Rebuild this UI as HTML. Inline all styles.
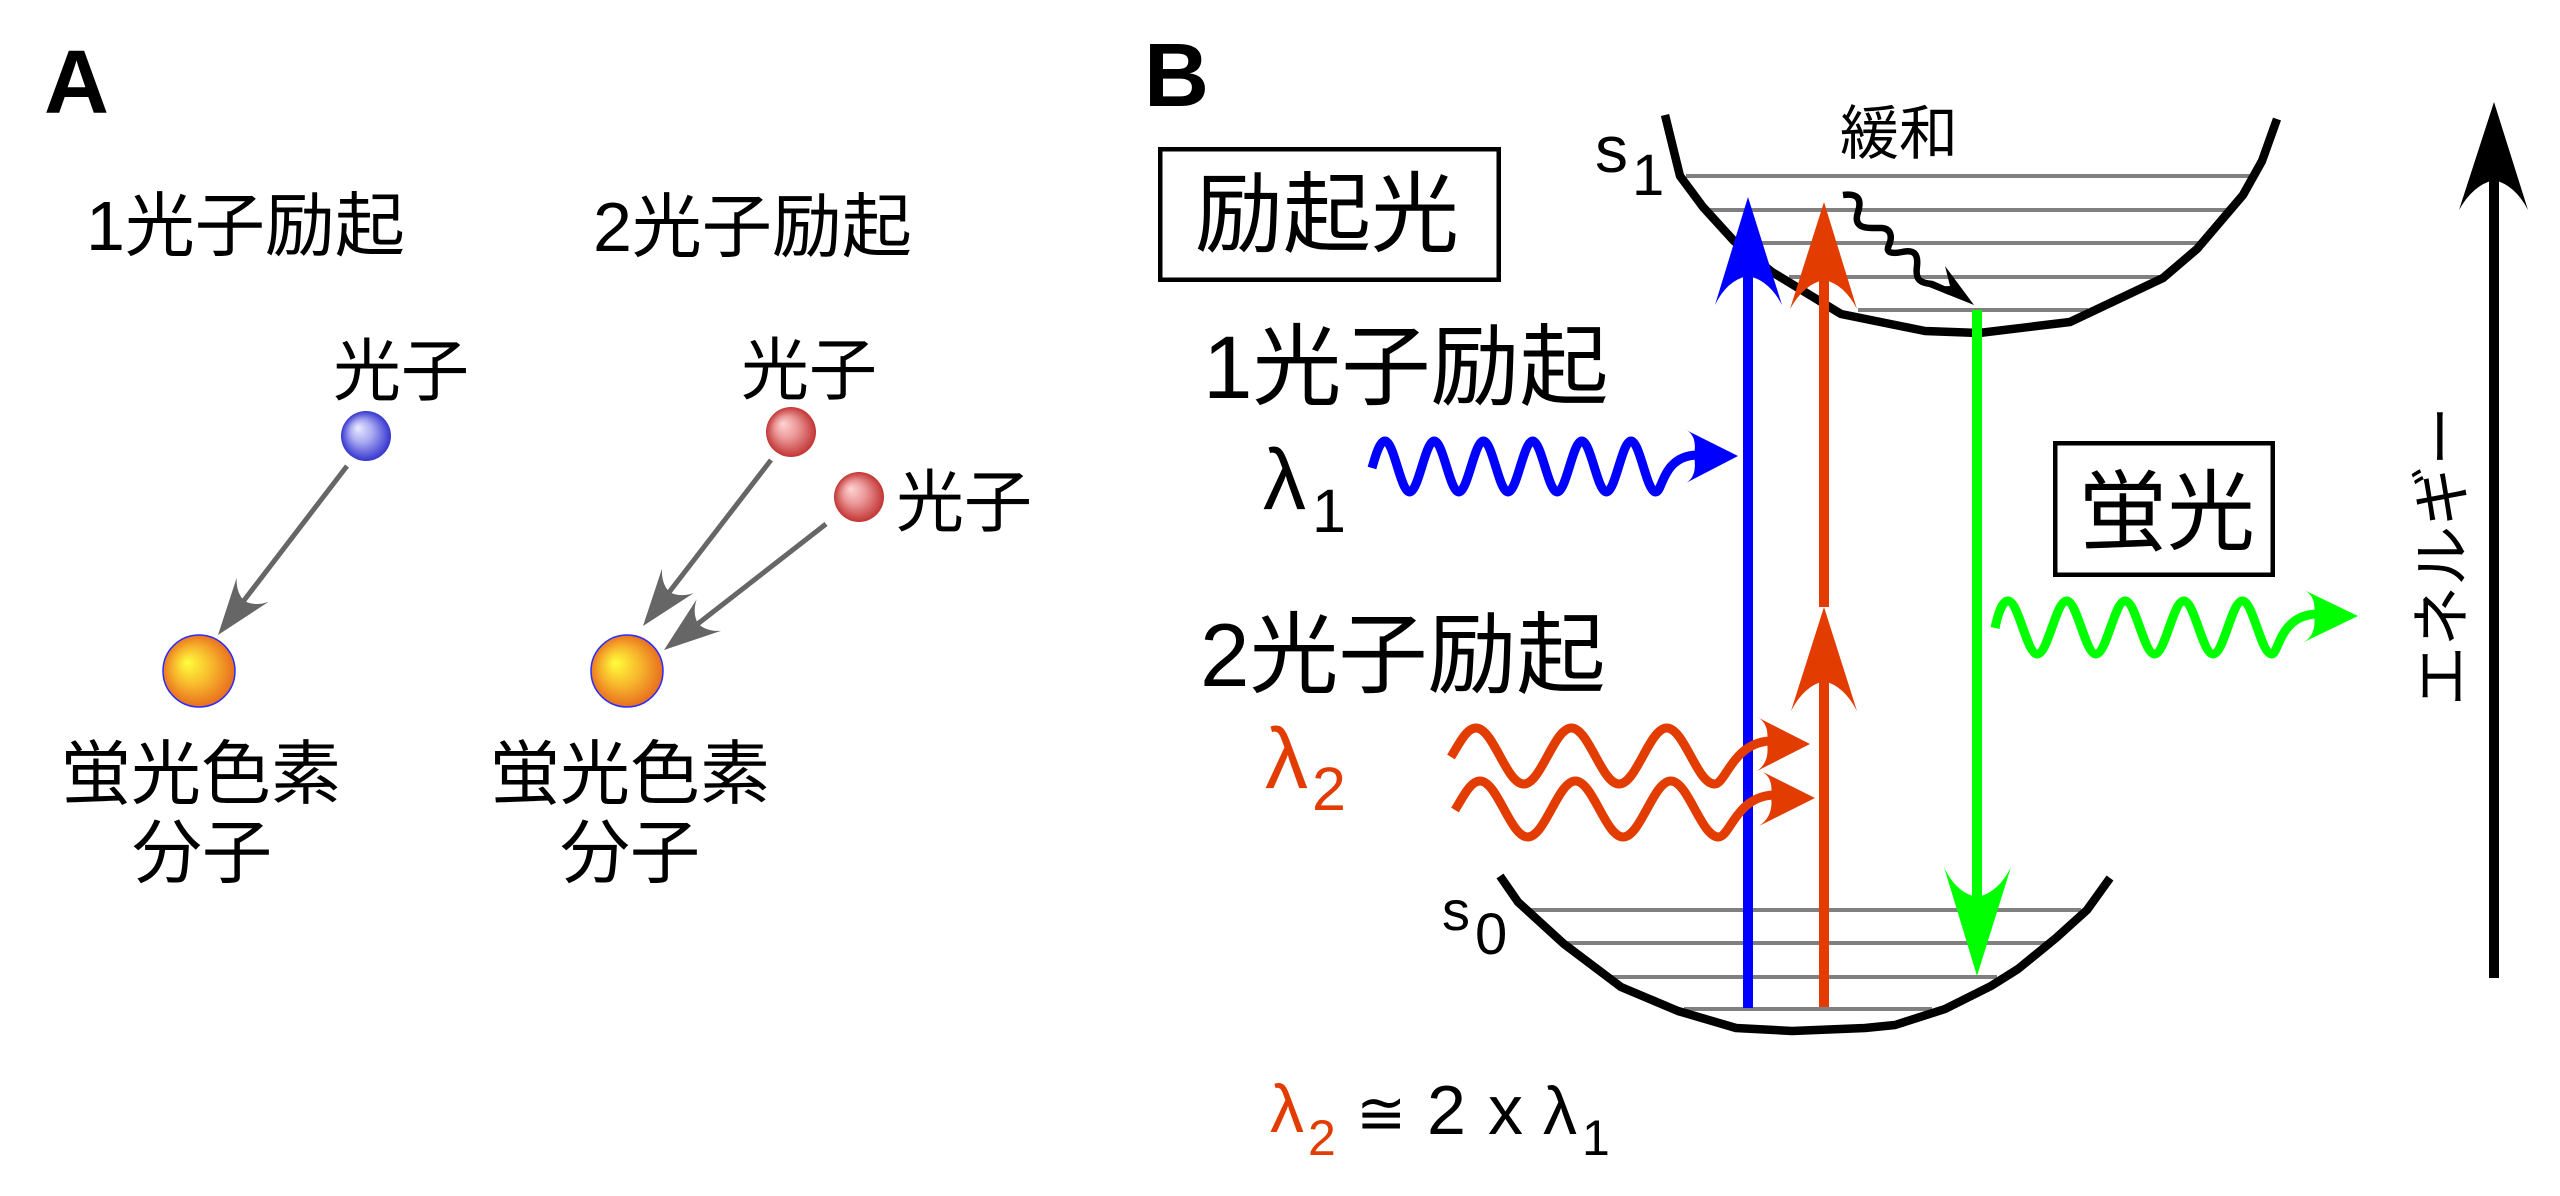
<!DOCTYPE html>
<html>
<head>
<meta charset="utf-8">
<style>
html,body{margin:0;padding:0;background:#fff;}
svg{display:block;}
text{font-family:"Liberation Sans","Noto Sans CJK JP",sans-serif;fill:#000;}
.cjk{font-family:"Liberation Sans","Noto Sans CJK JP",sans-serif;}
.red{fill:#e33c00;}
</style>
</head>
<body>
<svg width="2560" height="1196" viewBox="0 0 2560 1196" xmlns="http://www.w3.org/2000/svg">
<defs>
  <radialGradient id="gb" cx="0.5" cy="0.5" r="0.5" fx="0.33" fy="0.33">
    <stop offset="0" stop-color="#ececff"/>
    <stop offset="0.45" stop-color="#a9a9f2"/>
    <stop offset="1" stop-color="#3535cf"/>
  </radialGradient>
  <radialGradient id="gr" cx="0.5" cy="0.5" r="0.5" fx="0.33" fy="0.33">
    <stop offset="0" stop-color="#ffd4d4"/>
    <stop offset="0.45" stop-color="#eb9999"/>
    <stop offset="1" stop-color="#c23535"/>
  </radialGradient>
  <radialGradient id="go" cx="0.5" cy="0.5" r="0.55" fx="0.33" fy="0.38">
    <stop offset="0" stop-color="#ffff3c"/>
    <stop offset="0.5" stop-color="#f7b52c"/>
    <stop offset="1" stop-color="#e5621c"/>
  </radialGradient>
</defs>

<rect x="0" y="0" width="2560" height="1196" fill="#fff"/>

<!-- ================= PANEL A ================= -->
<text x="44" y="113" font-size="90" font-weight="bold" style="font-family:'Liberation Sans',sans-serif;">A</text>

<text x="86" y="250" font-size="70" class="cjk">1光子励起</text>
<text x="593" y="251" font-size="70" class="cjk">2光子励起</text>

<text x="401" y="395" font-size="68" text-anchor="middle" class="cjk">光子</text>
<text x="809" y="394" font-size="68" text-anchor="middle" class="cjk">光子</text>
<text x="896" y="526" font-size="68" class="cjk">光子</text>

<!-- photons -->
<circle cx="366" cy="436" r="25" fill="url(#gb)"/>
<circle cx="791" cy="432" r="25" fill="url(#gr)"/>
<circle cx="859" cy="497" r="25" fill="url(#gr)"/>

<!-- arrows A -->
<g stroke="#666" stroke-width="5" fill="none">
  <line x1="347" y1="466" x2="242" y2="603"/>
  <line x1="771" y1="460" x2="667" y2="595"/>
  <line x1="826" y1="524" x2="695" y2="626"/>
</g>
<g fill="#666">
  <path d="M0,0 L-57,-20 Q-45,-12 -43,0 Q-45,12 -57,20 Z" transform="translate(218,635) rotate(127.4)"/>
  <path d="M0,0 L-57,-20 Q-45,-12 -43,0 Q-45,12 -57,20 Z" transform="translate(643,626) rotate(127.7)"/>
  <path d="M0,0 L-57,-20 Q-45,-12 -43,0 Q-45,12 -57,20 Z" transform="translate(664,650) rotate(142.1)"/>
</g>

<!-- dye molecules -->
<circle cx="199" cy="671" r="36" fill="url(#go)" stroke="#2b2bff" stroke-width="1.5"/>
<circle cx="627" cy="671" r="36" fill="url(#go)" stroke="#2b2bff" stroke-width="1.5"/>

<text x="201" y="798" font-size="70" text-anchor="middle" class="cjk">蛍光色素</text>
<text x="202" y="877" font-size="70" text-anchor="middle" class="cjk">分子</text>
<text x="630" y="798" font-size="70" text-anchor="middle" class="cjk">蛍光色素</text>
<text x="630" y="877" font-size="70" text-anchor="middle" class="cjk">分子</text>

<!-- ================= PANEL B ================= -->
<text x="1144" y="106" font-size="90" font-weight="bold" style="font-family:'Liberation Sans',sans-serif;">B</text>

<!-- 励起光 box -->
<rect x="1160.25" y="149.25" width="338.5" height="130.5" fill="none" stroke="#000" stroke-width="4.5"/>
<text x="1195" y="245" font-size="88" class="cjk">励起光</text>

<text x="1203" y="398" font-size="89" class="cjk">1光子励起</text>
<text x="1200" y="686" font-size="89" class="cjk">2光子励起</text>

<!-- lambda labels -->
<text x="1263" y="509" font-size="86">λ</text>
<text x="1312" y="532" font-size="61">1</text>
<text x="1265" y="788" font-size="86" class="red">λ</text>
<text x="1312" y="810" font-size="61" class="red">2</text>

<!-- formula -->
<text x="1270" y="1132" font-size="68" class="red">λ</text>
<text x="1308" y="1155" font-size="50" class="red">2</text>
<text x="1356" y="1134" font-size="60" style="font-family:'DejaVu Sans','Liberation Sans',sans-serif;">≅</text>
<text x="1427" y="1134" font-size="70">2</text>
<text x="1488" y="1134" font-size="70">x</text>
<text x="1543" y="1134" font-size="68">λ</text>
<text x="1582" y="1155" font-size="50">1</text>

<!-- S1 / S0 labels -->
<text x="1595" y="172" font-size="66">s</text>
<text x="1632" y="195" font-size="58">1</text>
<text x="1442" y="930" font-size="56">s</text>
<text x="1475" y="954" font-size="58">0</text>

<!-- 緩和 -->
<text x="1840" y="154" font-size="59" class="cjk">緩和</text>

<!-- S1 vibrational levels -->
<g stroke="#808080" stroke-width="4">
  <line x1="1686" y1="176" x2="2253" y2="176"/>
  <line x1="1709" y1="210" x2="2230" y2="210"/>
  <line x1="1747" y1="243" x2="2199" y2="243"/>
  <line x1="1789" y1="277" x2="2161" y2="277"/>
  <line x1="1858" y1="310" x2="2088" y2="310"/>
</g>
<!-- S0 vibrational levels -->
<g stroke="#808080" stroke-width="4">
  <line x1="1527" y1="910" x2="2081" y2="910"/>
  <line x1="1562" y1="943" x2="2046" y2="943"/>
  <line x1="1609" y1="977" x2="1997" y2="977"/>
  <line x1="1684" y1="1009" x2="1932" y2="1009"/>
</g>

<!-- S1 curve -->
<path d="M1665,115 L1680,176 L1703,207 L1734,241 L1772,272 L1841,314 L1925,331 L1979,333 L2070,322 L2163,278 L2197,249 L2243,195 L2262,161 L2277,119"
      fill="none" stroke="#000" stroke-width="8.5" stroke-linejoin="round"/>
<!-- S0 curve -->
<path d="M1500,876 L1518,902 L1564,944 L1621,987 L1678,1011 L1736,1028 L1792,1031 L1865,1028 L1895,1025 L1945,1009 L1991,986 L2018,969 L2056,938 L2087,910 L2110,878"
      fill="none" stroke="#000" stroke-width="8.5" stroke-linejoin="round"/>

<!-- relaxation squiggle -->
<path d="M1843,195 C1858,193 1862,199 1858,212 C1854,224 1860,228 1872,228 L1882,228 C1892,229 1892,238 1889,245 C1885,253 1892,254 1902,252 C1916,249 1918,256 1917,266 C1915,280 1920,283 1932,284 L1950,292"
      fill="none" stroke="#000" stroke-width="6.5" stroke-linejoin="round"/>
<path d="M1974,305 L1945,266 L1950,286 L1929,287 Z" fill="#000"/>

<!-- blue vertical arrow -->
<line x1="1748" y1="1008" x2="1748" y2="272" stroke="#0000ff" stroke-width="10"/>
<path d="M1748,197 L1782,305 Q1769,280 1748,276 Q1727,280 1715,305 Z" fill="#0000ff"/>

<!-- red vertical arrows -->
<line x1="1824" y1="1007" x2="1824" y2="677" stroke="#e33c00" stroke-width="10"/>
<path d="M1824,607 L1857,711 Q1844,686 1824,681 Q1804,686 1791,711 Z" fill="#e33c00"/>
<line x1="1824" y1="607" x2="1824" y2="276" stroke="#e33c00" stroke-width="10"/>
<path d="M1824,202 L1857,309 Q1844,284 1824,280 Q1804,284 1790,309 Z" fill="#e33c00"/>

<!-- green vertical arrow -->
<line x1="1977" y1="310" x2="1977" y2="900" stroke="#00ff00" stroke-width="10"/>
<path d="M1977,976 L2011,867 Q1998,893 1977,897 Q1956,893 1944,867 Z" fill="#00ff00"/>

<!-- blue wave -->
<path d="M1372,468 C1376,454 1380,441 1385,441
 C1393.9,441 1400.7,492 1409.6,492
 S1425.3,441 1434.2,441
 S1449.9,492 1458.8,492
 S1474.5,441 1483.4,441
 S1499.1,492 1508,492
 S1523.7,441 1532.6,441
 S1548.3,492 1557.2,492
 S1572.9,441 1581.8,441
 S1597.5,492 1606.4,492
 S1622.1,441 1631,441
 S1646.7,492 1655.6,492
 C1663,492 1662,456 1697,455"
 fill="none" stroke="#0000ff" stroke-width="9" stroke-linejoin="round"/>
<path d="M1738,456 L1684,429 Q1698,434 1694,456 Q1698,478 1684,484 Z" fill="#0000ff"/>

<!-- red waves -->
<path d="M1451,757 C1460,742 1467,728 1476,728
 C1493.3,728 1506.4,784 1523.7,784
 S1554.1,728 1571.4,728
 S1601.8,784 1619.1,784
 S1649.5,728 1666.8,728
 S1697.2,784 1714.5,784
 C1726,784 1732,744 1769,741"
 fill="none" stroke="#e33c00" stroke-width="9" stroke-linejoin="round"/>
<path d="M1810,744 L1755,716 Q1770,722 1767,743 Q1770,762 1757,771 Z" fill="#e33c00"/>
<path d="M1455,810 C1464,795 1471,781 1480,781
 C1497.3,781 1510.4,837 1527.7,837
 S1558.1,781 1575.4,781
 S1605.8,837 1623.1,837
 S1653.5,781 1670.8,781
 S1701.2,837 1718.5,837
 C1730,837 1736,797 1773,795"
 fill="none" stroke="#e33c00" stroke-width="9" stroke-linejoin="round"/>
<path d="M1815,798 L1759,770 Q1774,776 1771,796 Q1774,816 1759,826 Z" fill="#e33c00"/>

<!-- 蛍光 box -->
<rect x="2055.25" y="443.25" width="217.5" height="131.5" fill="none" stroke="#000" stroke-width="4.5"/>
<text x="2079" y="543" font-size="88" class="cjk">蛍光</text>

<!-- green wave -->
<path d="M1995,628 C1998,614 2002,601 2008,601
 C2018.6,601 2026.7,654 2037.3,654
 S2056,601 2066.6,601
 S2085.3,654 2095.9,654
 S2114.6,601 2125.2,601
 S2143.9,654 2154.5,654
 S2173.2,601 2183.8,601
 S2202.5,654 2213.1,654
 S2231.8,601 2242.4,601
 S2261.1,654 2271.7,654
 C2279,654 2279,616 2316,614"
 fill="none" stroke="#00ff00" stroke-width="9" stroke-linejoin="round"/>
<path d="M2358,616 L2302,589 Q2317,595 2314,615 Q2317,636 2302,643 Z" fill="#00ff00"/>

<!-- energy axis -->
<line x1="2494" y1="978" x2="2494" y2="176" stroke="#000" stroke-width="10"/>
<path d="M2494,102 L2528,210 Q2515,185 2494,180 Q2473,185 2459,210 Z" fill="#000"/>
<text transform="translate(2463,556) rotate(-90)" x="0" y="0" font-size="60" text-anchor="middle" class="cjk">エネルギー</text>

</svg>
</body>
</html>
